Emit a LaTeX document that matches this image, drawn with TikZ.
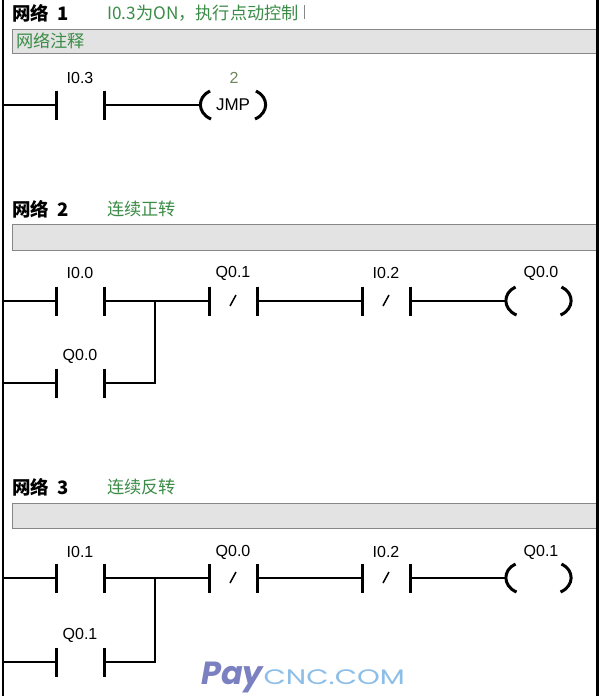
\documentclass[tikz,border=0pt]{standalone}
\usepackage{fontspec}
\setmainfont{Liberation Sans}
\newfontfamily\cjk{Noto Sans CJK SC}
\newfontfamily\wm{Poppins}
\definecolor{cmtgreen}{RGB}{58,140,70}
\definecolor{numgray}{RGB}{110,135,95}
\definecolor{bargray}{RGB}{227,227,227}
\definecolor{bardark}{RGB}{135,135,135}
\definecolor{paycol}{RGB}{123,128,192}
\definecolor{cnccol}{RGB}{140,190,232}
\newcommand\mkplates[1]{\draw[plate] (#1.north west) -- (#1.south west) (#1.north east) -- (#1.south east);}
\newcommand\mkslash[1]{\draw[slashline] ([shift={(-3,5)}]#1.center) -- ([shift={(3,-6)}]#1.center);}
\newcommand\mkparens[1]{%
  \draw[plate] ([shift={(-23,-14)}]#1.center) .. controls ([shift={(-36,-8)}]#1.center) and ([shift={(-36,8)}]#1.center) .. ([shift={(-22,14)}]#1.center);
  \draw[plate] ([shift={(23,-14)}]#1.center) .. controls ([shift={(36,-8)}]#1.center) and ([shift={(36,8)}]#1.center) .. ([shift={(22,14)}]#1.center);}
\begin{document}
\begin{tikzpicture}[x=1pt,y=-1pt,
  wire/.style={line width=2pt},
  plate/.style={line width=3pt},
  slashline/.style={line width=1.5pt},
  contact/.style={minimum width=48pt,minimum height=29pt,inner sep=0pt,outer sep=0pt},
  coil/.style={minimum width=66pt,minimum height=28pt,inner sep=0pt,outer sep=0pt,font=\fontsize{17}{17}\selectfont},
  lab/.style={font=\fontsize{16}{16}\selectfont,inner sep=0pt},
  hdr/.style={font=\cjk\bfseries\fontsize{18.5}{18.5}\selectfont,anchor=west,inner sep=0pt},
  cmt/.style={font=\cjk\fontsize{17.2}{17.2}\selectfont,text=cmtgreen,anchor=west,inner sep=0pt},
  bar/.style={fill=bargray,draw=bardark,line width=1pt}]
\useasboundingbox (0,0) rectangle (600,696);
\fill[white] (0,0) rectangle (600,696);

% ---------- Network 1 ----------
\node[hdr] (h1) at (12,13) {网络\hspace{0.45em}1};
\node[cmt] (c1) at (107,13) {I0.3为ON，执行点动控制};
\draw[bardark,line width=0.8pt] (304.5,5) -- (304.5,19);
\draw[bar] (12,29) rectangle (598,53);
\node[cmt] (n1) at (16,41) {网络注释};

\coordinate (L1) at (3,105);
\node[contact] (a1) at (80,105) {};
\node[lab] (a1l) at (80,78) {I0.3};
\node[coil] (k1) at (233,105) {JMP};
\node[lab,text=numgray] (k1l) at (234,78) {2};
\mkplates{a1}
\mkparens{k1}
\draw[wire] (L1) -- (a1.west);
\draw[wire] (a1.east) -- (k1.west);

% ---------- Network 2 ----------
\node[hdr] (h2) at (12,209) {网络\hspace{0.45em}2};
\node[cmt] (c2) at (107,209) {连续正转};
\draw[bar] (12,224) rectangle (598,250);

\coordinate (L2) at (3,301);
\coordinate (L2b) at (3,383);
\coordinate (j2) at (155,301);
\node[contact] (b1) at (80,301) {};
\node[lab] (b1l) at (80,273) {I0.0};
\node[contact] (b2) at (80,383) {};
\node[lab] (b2l) at (80,356) {Q0.0};
\node[contact] (b3) at (233,301) {};
\node[lab] (b3l) at (233,273) {Q0.1};
\node[contact] (b4) at (386,301) {};
\node[lab] (b4l) at (386,273) {I0.2};
\node[coil] (k2) at (538.5,301) {};
\node[lab] (k2l) at (541,273) {Q0.0};
\mkplates{b1}\mkplates{b2}\mkplates{b3}\mkplates{b4}
\mkslash{b3}\mkslash{b4}
\mkparens{k2}
\draw[wire] (L2) -- (b1.west);
\draw[wire] (b1.east) -- (b3.west);
\draw[wire] (b3.east) -- (b4.west);
\draw[wire] (b4.east) -- (k2.west);
\draw[wire] (L2b) -- (b2.west);
\draw[wire] (b2.east) -| (j2);

% ---------- Network 3 ----------
\node[hdr] (h3) at (12,487) {网络\hspace{0.45em}3};
\node[cmt] (c3) at (107,487) {连续反转};
\draw[bar] (12,503) rectangle (598,528);

\coordinate (L3) at (3,578);
\coordinate (L3b) at (3,662);
\coordinate (j3) at (155,578);
\node[contact] (d1) at (80,578) {};
\node[lab] (d1l) at (80,552) {I0.1};
\node[contact] (d2) at (80,662) {};
\node[lab] (d2l) at (80,635) {Q0.1};
\node[contact] (d3) at (233,578) {};
\node[lab] (d3l) at (233,552) {Q0.0};
\node[contact] (d4) at (386,578) {};
\node[lab] (d4l) at (386,552) {I0.2};
\node[coil] (k3) at (538.5,578) {};
\node[lab] (k3l) at (541,552) {Q0.1};
\mkplates{d1}\mkplates{d2}\mkplates{d3}\mkplates{d4}
\mkslash{d3}\mkslash{d4}
\mkparens{k3}
\draw[wire] (L3) -- (d1.west);
\draw[wire] (d1.east) -- (d3.west);
\draw[wire] (d3.east) -- (d4.west);
\draw[wire] (d4.east) -- (k3.west);
\draw[wire] (L3b) -- (d2.west);
\draw[wire] (d2.east) -| (j3);

% ---------- rails ----------
\draw[line width=2.5pt] (3,0) -- (3,696);
\draw[line width=3pt] (597.5,0) -- (597.5,696);

% ---------- watermark ----------
\node[anchor=base west,inner sep=0pt,text=paycol,font=\wm\bfseries\itshape\fontsize{32}{32}\selectfont] (pay) at (201,684) {Pay};
\node[anchor=base west,inner sep=0pt,text=cnccol,font=\wm\fontsize{21}{21}\selectfont,xscale=1.38] (cnc) at (pay.base east) {CNC.COM};
\end{tikzpicture}
\end{document}
